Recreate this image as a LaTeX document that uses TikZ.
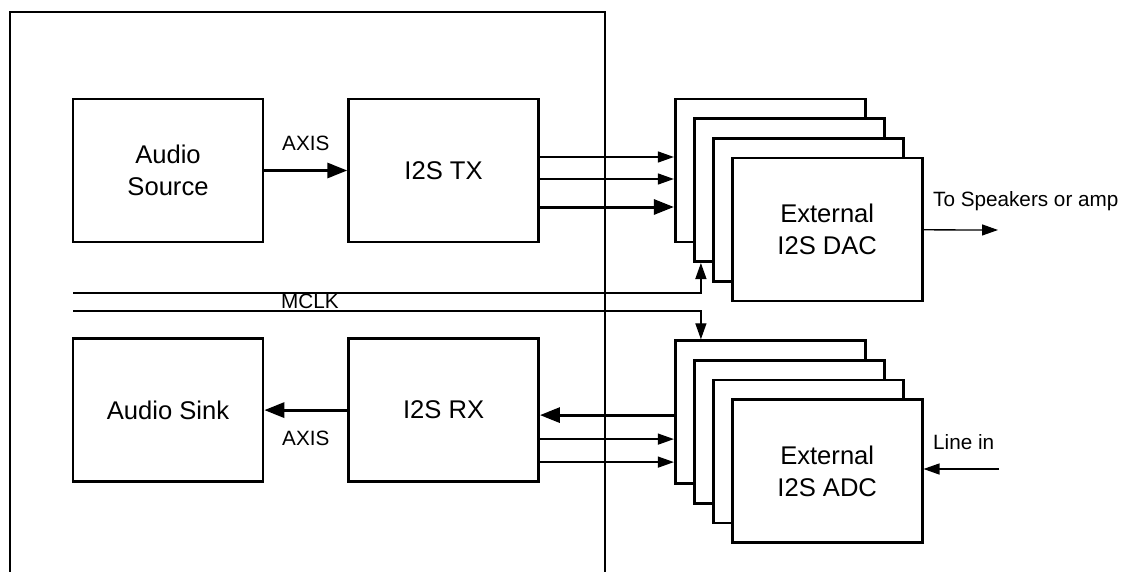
\documentclass[tikz,border=0pt]{standalone}
\usepackage{fontspec}
\setmainfont{Liberation Sans}
\usetikzlibrary{arrows.meta,positioning,calc}
\tikzset{
  blk/.style={draw,line width=2.6pt,fill=white,align=center,inner sep=0pt,
              minimum width=190pt,minimum height=143pt,font=\fontsize{25.6}{32}\selectfont},
  flow/.style={-{Triangle[length=16pt,width=11pt]},line width=1.3pt},
  bigflow/.style={-{Triangle[length=20pt,width=15pt]},line width=3pt},
  lbl/.style={font=\fontsize{20.7}{24}\selectfont,inner sep=0pt}
}

\begin{document}
\begin{tikzpicture}[x=1pt,y=-1pt]
  \useasboundingbox (0,0) rectangle (1129,572);
  % FPGA side
  \draw[line width=2.5pt] (10,572) -- (10,12) -- (605,12) -- (605,572);

  \node[blk] (src) at (168,170.5) {Audio\\Source};
  \node[blk,right=83pt of src] (tx) {I2S TX};
  \node[blk,below=94pt of src] (sink) {Audio Sink};
  \node[blk,right=83pt of sink] (rx) {I2S RX};

  % DAC stack
  \node[blk,right=134pt of tx] (dac1) {};
  \node[blk] (dac2) at ($(dac1)+(19,19.7)$) {};
  \node[blk] (dac3) at ($(dac2)+(19,19.7)$) {};
  \node[blk] (dac4) at ($(dac3)+(19,19.7)$) {External\\I2S DAC};

  % ADC stack
  \node[blk,below=96pt of dac1] (adc1) {};
  \node[blk] (adc2) at ($(adc1)+(19,19.7)$) {};
  \node[blk] (adc3) at ($(adc2)+(19,19.7)$) {};
  \node[blk] (adc4) at ($(adc3)+(19,19.7)$) {External\\I2S ADC};

  \coordinate (mclkA) at (73,293);
  \coordinate (mclkB) at (73,311);
  \coordinate (spk) at (998,230);
  \coordinate (linein) at (999,469);

  \draw[bigflow] (src) -- node[lbl,above=18pt] (axistx) {AXIS} (tx);
  \draw[bigflow] (rx) -- node[lbl,below=19pt] (axisrx) {AXIS} (sink);

  \draw[flow] ([yshift=13.5pt]tx.east) -- ([yshift=13.5pt]tx.east -| dac1.west);
  \draw[flow] ([yshift=-8.5pt]tx.east) -- ([yshift=-8.5pt]tx.east -| dac1.west);
  \draw[bigflow] ([yshift=-36.5pt]tx.east) -- ([yshift=-36.5pt]tx.east -| dac1.west);

  \draw[bigflow] ([yshift=-5pt]rx.east -| adc1.west) -- ([yshift=-5pt]rx.east);
  \draw[flow] ([yshift=-29pt]rx.east) -- ([yshift=-29pt]rx.east -| adc1.west);
  \draw[flow] ([yshift=-52pt]rx.east) -- ([yshift=-52pt]rx.east -| adc1.west);

  \draw[flow] (mclkA) -| ([xshift=8pt]dac2.south west);
  \draw[flow] (mclkB) -| ([xshift=27pt]adc1.north west);
  \node[lbl,anchor=base west] (mclk) at (281,308) {MCLK};

  \draw[flow] (dac4) -- (spk);
  \node[lbl,anchor=base west] (spklbl) at (933,207) {To Speakers or amp};
  \draw[flow] (linein) -- (adc4.east |- linein);
  \node[lbl,anchor=base west] (inlbl) at (933,449) {Line in};
\end{tikzpicture}
\end{document}
